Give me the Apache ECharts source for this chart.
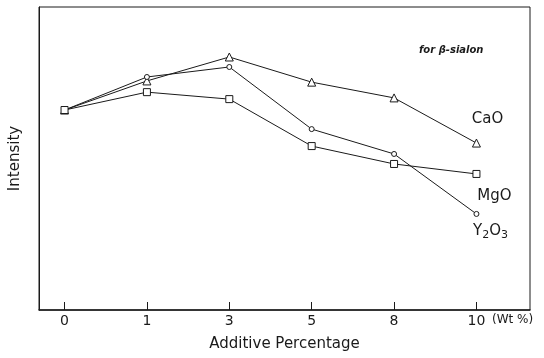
<!DOCTYPE html>
<html>
<head>
<meta charset="utf-8">
<script src="https://cdn.jsdelivr.net/npm/echarts@6/dist/echarts.min.js"></script>
<style>
  html, body { margin: 0; padding: 0; background: #fff; }
  #chart { width: 544px; height: 358px; }
</style>
</head>
<body>
<div id="chart"></div>
<script>
// x categories (evenly spaced in the figure) and intensities (arbitrary units)
var additive = ['0', '1', '3', '5', '8', '10'];
var cao = [66.0, 75.6, 83.5, 75.2, 70.0, 55.1];
var y2o3 = [66.0, 76.9, 80.2, 59.7, 51.5, 31.7];
var mgo = [66.0, 71.9, 69.6, 54.1, 48.2, 44.9];
var tickIdx = [0, 1, 2, 3, 4, 5];

var font = 'DejaVu Sans';
var ink = '#1a1a1a';

function pts(arr) {
  return arr.map(function (v, i) { return [i, v]; });
}

function makeSeries(name, values, symbol, size, label) {
  var data = pts(values);
  var last = data.length - 1;
  data[last] = { value: data[last], label: label };
  return {
    name: name,
    type: 'line',
    data: data,
    symbol: symbol,
    symbolSize: size,
    showAllSymbol: true,
    lineStyle: { color: ink, width: 1 },
    itemStyle: { color: '#fff', borderColor: ink, borderWidth: 1 },
    emphasis: { disabled: true },
    animation: false
  };
}

var chart = echarts.init(document.getElementById('chart'));
chart.setOption({
  animation: false,
  grid: {
    left: 35, right: 14, top: 7, bottom: 48,
    show: true, borderColor: ink, borderWidth: 1
  },
  xAxis: {
    type: 'value',
    min: -0.31, max: 5.65,
    splitLine: { show: false },
    axisLine: { onZero: false, lineStyle: { color: ink, width: 1.5 } },
    axisTick: { inside: true, length: 8, customValues: tickIdx, lineStyle: { color: ink } },
    axisLabel: {
      customValues: tickIdx,
      color: ink, fontFamily: font, fontSize: 14, margin: 4,
      formatter: function (v) { return additive[Math.round(v)]; }
    },
    name: 'Additive Percentage',
    nameLocation: 'middle',
    nameGap: 27,
    nameTextStyle: { color: ink, fontFamily: font, fontSize: 15 }
  },
  yAxis: {
    type: 'value',
    min: 0, max: 100,
    splitLine: { show: false },
    axisLine: { show: true, onZero: false, lineStyle: { color: ink } },
    axisTick: { show: false },
    axisLabel: { show: false },
    name: 'Intensity',
    nameLocation: 'middle',
    nameGap: 16,
    nameTextStyle: { color: ink, fontFamily: font, fontSize: 15 }
  },
  graphic: [
    { type: 'text', left: 492, top: 314,
      style: { text: '(Wt %)', font: '12px ' + font, fill: ink } },
    { type: 'text', left: 419, top: 45,
      style: { text: 'for β-sialon', font: 'italic bold 10px ' + font, fill: ink } }
  ],
  series: [
    makeSeries('CaO', cao, 'triangle', 8,
      { show: true, position: 'top', offset: [11, -7], formatter: 'CaO',
        color: ink, fontFamily: font, fontSize: 15 }),
    makeSeries('Y2O3', y2o3, 'circle', 5,
      { show: true, position: 'bottom', offset: [14, 0], formatter: 'Y{s|2}O{s|3}',
        color: ink, fontFamily: font, fontSize: 15,
        rich: { s: { fontSize: 11, fontFamily: font, color: ink, padding: [8, 0, 0, 0] } } }),
    makeSeries('MgO', mgo, 'rect', 7,
      { show: true, position: 'bottom', offset: [18, 6], formatter: 'MgO',
        color: ink, fontFamily: font, fontSize: 15 })
  ]
});
</script>
</body>
</html>
